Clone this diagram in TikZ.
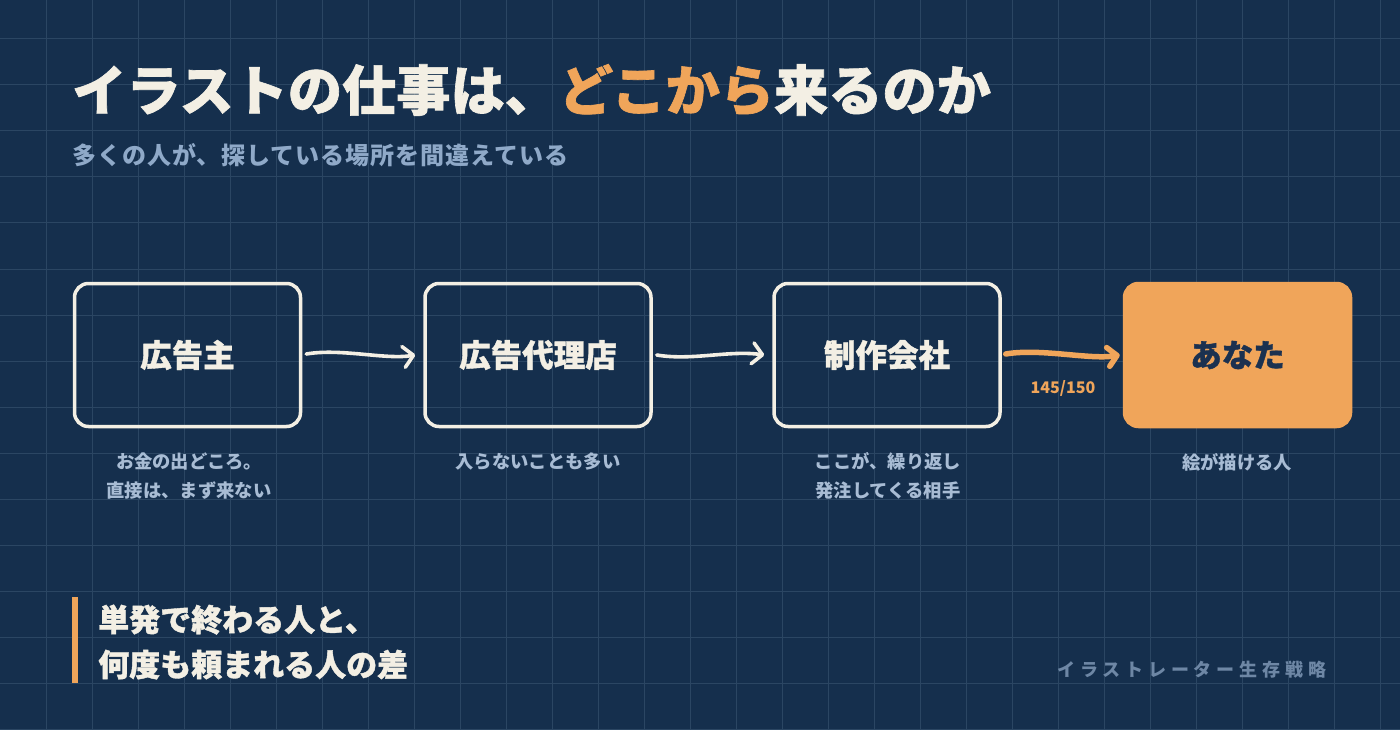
\documentclass[tikz,border=0pt]{standalone}
\usepackage{fontspec}
\setmainfont{Noto Sans CJK JP}
\newfontfamily\jpfoot[LetterSpace=27]{Noto Sans CJK JP}
\newfontfamily\jpsub[LetterSpace=4]{Noto Sans CJK JP}
\newfontfamily\jpheavy[BoldFeatures={FakeBold=1.2}]{Noto Sans CJK JP}
\usetikzlibrary{arrows.meta,calc}
\definecolor{bg}{HTML}{152F4D}
\definecolor{gridc}{HTML}{2B4663}
\definecolor{cream}{HTML}{F3EFE4}
\definecolor{orng}{HTML}{F0A55A}
\definecolor{subc}{HTML}{8FA9C8}
\definecolor{capc}{HTML}{A8BCD4}
\definecolor{footc}{HTML}{6E87A5}
\definecolor{navy}{HTML}{1B3150}
\tikzset{
  box/.style={draw=cream, line width=3.5pt, rounded corners=14pt, minimum width=226pt, minimum height=143pt,
    text=cream, font=\jpheavy\bfseries\fontsize{31.5}{36}\selectfont, inner sep=0pt},
  youbox/.style={box, fill=orng, draw=orng, text=navy},
  flow/.style={draw=cream, line width=3.6pt, line cap=round,
    -{Straight Barb[length=10pt,width=21pt,round]}},
  hotflow/.style={draw=orng, line width=5.5pt, line cap=round,
    -{Straight Barb[length=9pt,width=19pt,round]}},
  capt/.style={text=capc, align=center, font=\bfseries\fontsize{18.3}{29}\selectfont},
}
\begin{document}
\begin{tikzpicture}[x=1pt,y=-1pt]
\fill[bg] (0,0) rectangle (1400,730);
\useasboundingbox (0,0) rectangle (1400,730);
\foreach \gx in {46,92,...,1380} \draw[gridc, line width=1pt] (\gx,0) -- (\gx,730);
\foreach \gy in {39,85,...,729} \draw[gridc, line width=1pt] (0,\gy) -- (1400,\gy);

\node[anchor=west, text=cream, font=\jpheavy\bfseries\fontsize{54.2}{60}\selectfont, inner sep=0pt] (title) at (72,90)
  {イラストの仕事は、\textcolor{orng}{どこから}来るのか};
\node[anchor=west, text=subc, font=\jpsub\bfseries\fontsize{24}{30}\selectfont, inner sep=0pt] (subtitle) at (72,155)
  {多くの人が、探している場所を間違えている};

\node[box] (a) at (187.5,355) {広告主};
\node[box] (b) at (538,355) {広告代理店};
\node[box] (c) at (887,355) {制作会社};
\node[youbox] (d) at (1237.5,355) {あなた};

\draw[flow] ($(a.east)+(4,-1)$) .. controls +(35,-6) and +(-30,5) .. ($(b.west)+(-8,0)$);
\draw[flow] ($(b.east)+(4,0)$) .. controls +(35,6) and +(-35,-5) .. ($(c.west)+(-8,0)$);
\draw[hotflow] ($(c.east)+(4,-1)$) .. controls +(35,-6) and +(-30,5) .. ($(d.west)+(-3,0)$);

\node[text=orng, font=\bfseries\fontsize{16}{20}\selectfont] (ratio) at (1063,388) {145/150};

\node[capt] (capa) at (189,476) {お金の出どころ。\\直接は、まず来ない};
\node[capt] (capb) at (538,462) {入らないことも多い};
\node[capt] (capc) at (888,476) {ここが、繰り返し\\発注してくる相手};
\node[capt] (capd) at (1237,462) {絵が描ける人};

\fill[orng] (72,597) rectangle (78,683);
\node[anchor=west, text=cream, font=\jpheavy\bfseries\fontsize{31}{45}\selectfont, align=left, inner sep=0pt] (moral) at (98,642)
  {単発で終わる人と、\\何度も頼まれる人の差};

\node[anchor=west, text=footc, font=\jpfoot\bfseries\fontsize{18}{22}\selectfont, inner sep=0pt] (foot) at (1057,670)
  {イラストレーター生存戦略};
\end{tikzpicture}
\end{document}
